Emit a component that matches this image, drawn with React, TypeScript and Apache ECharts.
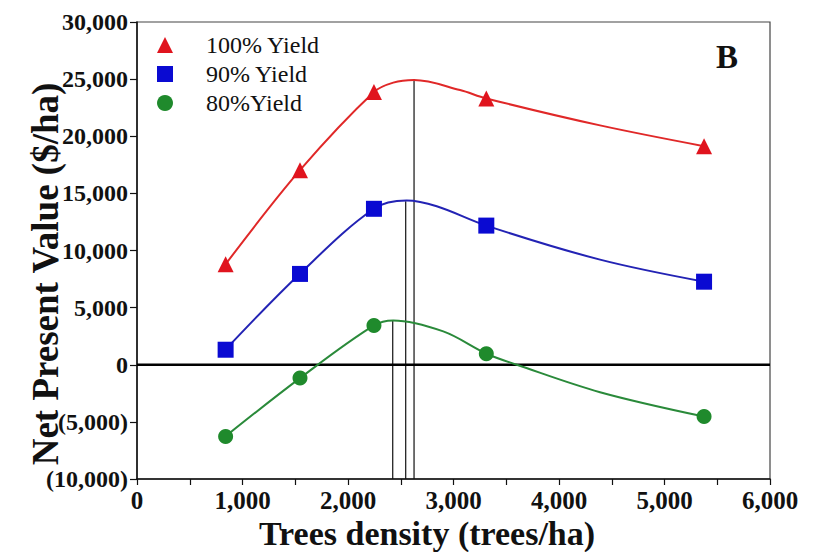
import React, { useEffect, useRef } from "react";
import * as echarts from "echarts";

const densities = [840, 1545, 2246, 3311, 5375];
const npv100 = [8800, 17030, 23870, 23310, 19130];
const npv90 = [1315, 7950, 13650, 12180, 7270];
const npv80 = [-6280, -1170, 3440, 964, -4530];

// fitted curves
const curve100: [number, number][] = [[840, 8800], [1545, 17030], [2246, 23870], [2429, 24690], [2626, 24917], [3062, 24040], [3311, 23310], [4389, 20950], [5375, 19130]];
const curve90: [number, number][] = [[837, 1315], [1542, 7950], [2246, 13650], [2556, 14370], [2841, 13870], [3311, 12180], [4389, 9200], [5377, 7270]];
const curve80: [number, number][] = [[837, -6280], [1545, -1170], [2246, 3440], [2429, 3880], [2903, 2920], [3314, 964], [3600, 0], [4389, -2400], [5374, -4530]];

// optimum density lines (x, peak value)
const optima: [number, number][] = [[2626, 24917], [2547, 14312], [2424, 3856]];

const seriesNames = ["100% Yield", "90% Yield", "80%Yield"];
const colors = ["#e0141e", "#0a0ad2", "#1f8a2c"];
const lineColors = ["#e02828", "#2323b4", "#2a8a3a"];
const symbols = ["triangle", "rect", "circle"];
const symbolSizes = [16, 16, 15];

const xTitle = "Trees density (trees/ha)";
const yTitle = "Net Present Value ($/ha)";
const panelLabel = "B";

const FONT = "'Liberation Serif', 'Times New Roman', serif";

function fmt(v: number): string {
  const s = Math.abs(v).toLocaleString("en-US");
  return v < 0 ? `(${s})` : s;
}

export default function App() {
  const ref = useRef<HTMLDivElement>(null);
  useEffect(() => {
    if (!ref.current) return;
    const chart = echarts.init(ref.current, undefined, { renderer: "svg" });
    const values = [npv100, npv90, npv80];
    const curves = [curve100, curve90, curve80];
    const series: any[] = [];
    curves.forEach((c, i) => {
      series.push({
        type: "line",
        name: seriesNames[i] + " fit",
        data: c,
        smooth: 0.35,
        showSymbol: false,
        lineStyle: { color: lineColors[i], width: 2 },
        silent: true,
        z: 3,
      });
    });
    optima.forEach((o) => {
      series.push({
        type: "line",
        data: [[o[0], -10000], [o[0], o[1]]],
        showSymbol: false,
        lineStyle: { color: "#111", width: 1.2 },
        silent: true,
        z: 2,
      });
    });
    series.push({
      type: "line",
      data: [[0, 0], [6000, 0]],
      showSymbol: false,
      lineStyle: { color: "#000", width: 2.5 },
      silent: true,
      z: 2,
    });
    values.forEach((v, i) => {
      series.push({
        type: "scatter",
        name: seriesNames[i],
        data: densities.map((d, j) => [d, v[j]]),
        symbol: symbols[i],
        symbolSize: symbolSizes[i],
        itemStyle: { color: colors[i], opacity: 1 },
        z: 5,
      });
    });

    chart.setOption({
      animation: false,
      backgroundColor: "#fff",
      grid: { left: 137, right: 50, top: 22, bottom: 73, show: true, borderColor: "#444", borderWidth: 1.2 },
      legend: {
        orient: "vertical",
        left: 152,
        top: 28,
        itemWidth: 16,
        itemHeight: 16,
        itemGap: 5,
        data: seriesNames,
        textStyle: { fontFamily: FONT, fontSize: 24, color: "#111", padding: [0, 0, 0, 28] },
      },
      xAxis: {
        type: "value",
        min: 0,
        max: 6000,
        interval: 500,
        axisLine: { show: true, onZero: false, lineStyle: { color: "#111", width: 1.5 } },
        axisTick: { show: true, length: 6, lineStyle: { color: "#111", width: 1.2 } },
        splitLine: { show: false },
        axisLabel: {
          fontFamily: FONT,
          fontSize: 25,
          fontWeight: "bold",
          color: "#111",
          margin: 9,
          formatter: (v: number) => (v % 1000 === 0 ? fmt(v) : ""),
        },
      },
      yAxis: {
        type: "value",
        min: -10000,
        max: 30000,
        interval: 5000,
        axisLine: { show: true, onZero: false, lineStyle: { color: "#111", width: 1.5 } },
        axisTick: { show: true, length: 7, lineStyle: { color: "#111", width: 1.2 } },
        splitLine: { show: false },
        axisLabel: {
          fontFamily: FONT,
          fontSize: 24,
          fontWeight: "bold",
          color: "#111",
          margin: 9,
          formatter: (v: number) => fmt(v),
        },
      },
      graphic: [
        {
          type: "text",
          left: 716,
          top: 40,
          style: { text: panelLabel, fontFamily: FONT, fontSize: 33, fontWeight: "bold", fill: "#111" },
        },
        {
          type: "text",
          x: 427,
          y: 533,
          style: { text: xTitle, fontFamily: FONT, fontSize: 34, fontWeight: "bold", fill: "#111", align: "center", verticalAlign: "middle" },
        },
        {
          type: "text",
          x: 45,
          y: 274,
          rotation: Math.PI / 2,
          style: { text: yTitle, fontFamily: FONT, fontSize: 37, fontWeight: "bold", fill: "#111", align: "center", verticalAlign: "middle" },
        },
      ],
      series,
    });
    return () => chart.dispose();
  }, []);
  return <div ref={ref} style={{ width: 820, height: 552, position: "absolute", left: 0, top: 0 }} />;
}
